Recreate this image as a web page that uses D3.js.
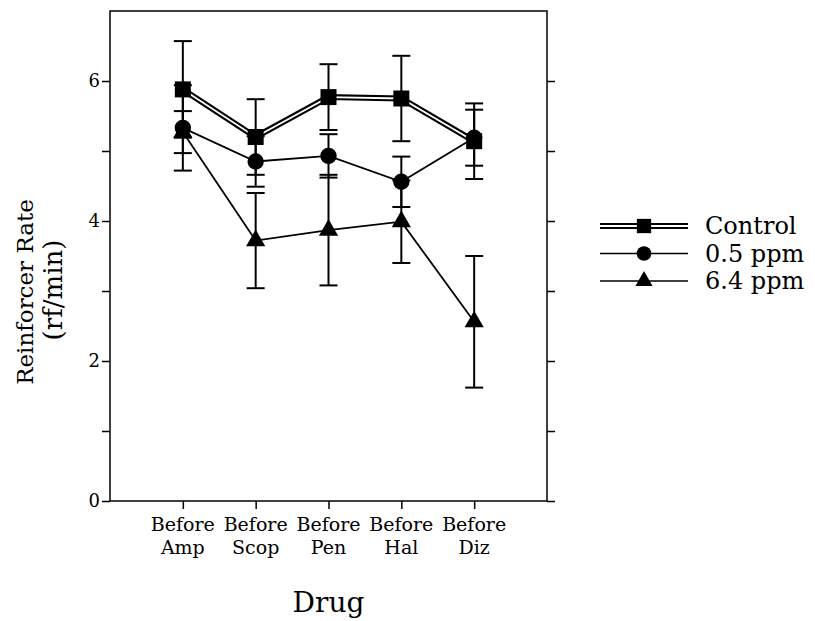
<html lang="en">
<head>
<style>
    body { margin: 0; background: #fff; }
    text { font-family: "DejaVu Serif", serif; fill: #000; }
</style>
</head>
<body>
<script type='text/javascript' src='https://d3js.org/d3.v7.min.js'></script>
<script>
    // data
    var drugs = ["Before Amp", "Before Scop", "Before Pen", "Before Hal", "Before Diz"];
    var seriesNames = ["Control", "0.5 ppm", "6.4 ppm"];
    var controlMean = [5.88, 5.20, 5.77, 5.75, 5.14];
    var controlErr  = [0.69, 0.54, 0.47, 0.61, 0.54];
    var lowMean = [5.33, 4.85, 4.93, 4.56, 5.19];
    var lowErr  = [0.61, 0.36, 0.31, 0.36, 0.40];
    var highMean = [5.27, 3.72, 3.87, 3.99, 2.56];
    var highErr  = [0.30, 0.68, 0.79, 0.59, 0.94];
    var yTicks = [0, 1, 2, 3, 4, 5, 6];
    var yLabels = [0, 2, 4, 6];

    var width = 815, height = 621;
    var margin = {left: 110, right: 268, top: 11, bottom: 120};

    var svg = d3.select("body").append("svg")
        .attr("width", width)
        .attr("height", height);

    var x = d3.scaleLinear().domain([0, 6]).range([margin.left, width - margin.right]);
    var y = d3.scaleLinear().domain([0, 7]).range([height - margin.bottom, margin.top]);

    var series = [
        {name: seriesNames[0], mean: controlMean, err: controlErr, shape: d3.symbolSquare, size: 256, dbl: true},
        {name: seriesNames[1], mean: lowMean, err: lowErr, shape: d3.symbolCircle, size: 210, dbl: false},
        {name: seriesNames[2], mean: highMean, err: highErr, shape: d3.symbolTriangle, size: 160, dbl: false}
    ];

    // frame
    svg.append("rect")
        .attr("x", x(0)).attr("y", y(7))
        .attr("width", x(6) - x(0)).attr("height", y(0) - y(7))
        .attr("fill", "none").attr("stroke", "#000").attr("stroke-width", 1.5);

    var fmt = function(d) { return yLabels.indexOf(d) >= 0 ? d : ""; };

    var gl = svg.append("g")
        .attr("transform", "translate(" + x(0) + ",0)")
        .call(d3.axisLeft(y).tickValues(yTicks).tickFormat(fmt).tickSize(8).tickPadding(2));
    var gr = svg.append("g")
        .attr("transform", "translate(" + x(6) + ",0)")
        .call(d3.axisRight(y).tickValues(yTicks).tickFormat("").tickSize(8));
    var gb = svg.append("g")
        .attr("transform", "translate(0," + y(0) + ")")
        .call(d3.axisBottom(x).tickValues([1, 2, 3, 4, 5]).tickFormat("").tickSize(8));

    [gl, gr, gb].forEach(function(g) {
        g.select(".domain").remove();
        g.selectAll("line").attr("stroke-width", 1.5);
        g.selectAll("text").style("font-family", "DejaVu Serif").style("font-size", "18px");
    });

    // category labels, two lines
    drugs.forEach(function(d, i) {
        var parts = d.split(" ");
        var t = svg.append("text")
            .attr("x", x(i + 1)).attr("y", 531)
            .attr("text-anchor", "middle")
            .style("font-size", "19px");
        t.append("tspan").attr("x", x(i + 1)).attr("dy", 0).text(parts[0]);
        t.append("tspan").attr("x", x(i + 1)).attr("dy", 23).text(parts[1]);
    });

    svg.append("text")
        .attr("x", (x(0) + x(6)) / 2).attr("y", 612)
        .attr("text-anchor", "middle")
        .style("font-size", "28px")
        .text("Drug");

    svg.append("text")
        .attr("transform", "translate(33,292) rotate(-90)")
        .attr("text-anchor", "middle")
        .style("font-size", "23px")
        .text("Reinforcer Rate");
    svg.append("text")
        .attr("transform", "translate(62,290) rotate(-90)")
        .attr("text-anchor", "middle")
        .style("font-size", "26px")
        .text("(rf/min)");

    var line = d3.line()
        .x(function(d, i) { return x(i + 1); })
        .y(function(d) { return y(d); });

    // lines
    series.forEach(function(s) {
        if (s.dbl) {
            svg.append("path").attr("d", line(s.mean))
                .attr("fill", "none").attr("stroke", "#000").attr("stroke-width", 6);
            svg.append("path").attr("d", line(s.mean))
                .attr("fill", "none").attr("stroke", "#fff").attr("stroke-width", 1.8);
        } else {
            svg.append("path").attr("d", line(s.mean))
                .attr("fill", "none").attr("stroke", "#000").attr("stroke-width", 1.8);
        }
    });

    // error bars
    series.forEach(function(s) {
        var g = svg.append("g").attr("stroke", "#000").attr("stroke-width", 2);
        s.mean.forEach(function(m, i) {
            var cx = x(i + 1), lo = y(m - s.err[i]), hi = y(m + s.err[i]);
            g.append("line").attr("x1", cx).attr("x2", cx).attr("y1", lo).attr("y2", hi);
            g.append("line").attr("x1", cx - 9).attr("x2", cx + 9).attr("y1", lo).attr("y2", lo);
            g.append("line").attr("x1", cx - 9).attr("x2", cx + 9).attr("y1", hi).attr("y2", hi);
        });
    });

    // markers
    series.forEach(function(s) {
        var sym = d3.symbol().type(s.shape).size(s.size);
        svg.selectAll(null).data(s.mean).enter().append("path")
            .attr("d", sym)
            .attr("transform", function(d, i) { return "translate(" + x(i + 1) + "," + y(d) + ")"; })
            .attr("fill", "#000");
    });

    // legend
    var lg = svg.append("g");
    series.forEach(function(s, i) {
        var ly = 226 + i * 27.5;
        if (s.dbl) {
            lg.append("line").attr("x1", 600).attr("x2", 688).attr("y1", ly).attr("y2", ly)
                .attr("stroke", "#000").attr("stroke-width", 6);
            lg.append("line").attr("x1", 600).attr("x2", 688).attr("y1", ly).attr("y2", ly)
                .attr("stroke", "#fff").attr("stroke-width", 1.8);
        } else {
            lg.append("line").attr("x1", 600).attr("x2", 688).attr("y1", ly).attr("y2", ly)
                .attr("stroke", "#000").attr("stroke-width", 1.5);
        }
        lg.append("path")
            .attr("d", d3.symbol().type(s.shape).size(s.size * 0.8))
            .attr("transform", "translate(644," + ly + ")")
            .attr("fill", "#000");
        lg.append("text")
            .attr("x", 705).attr("y", ly + 8)
            .style("font-size", "24px")
            .text(s.name);
    });
</script>
</body>
</html>
